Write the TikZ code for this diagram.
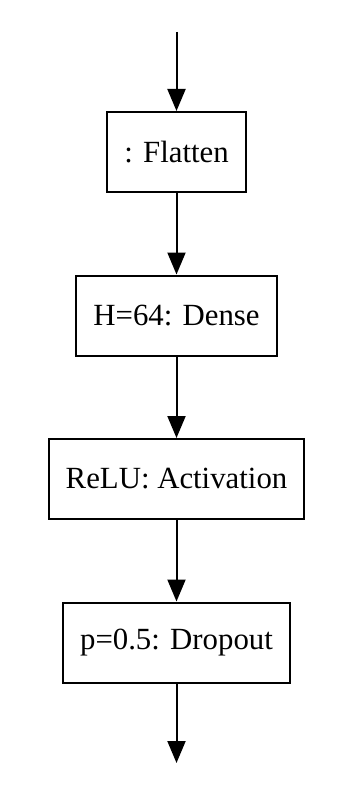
\documentclass[tikz,border=0pt]{standalone}
\usepackage{fontspec}
\setmainfont{Liberation Serif}
\usetikzlibrary{arrows.meta}

\tikzstyle{layer} = [align=center,draw=black,line width=1pt,font=\fontsize{15.4}{18}\selectfont,rectangle,text centered,minimum height=40pt,inner xsep=8.5pt]

\begin{document}
\begin{tikzpicture}[x=0.5pt,y=-0.5pt,node distance=81.75pt,>={Triangle[length=11pt,width=9pt]}]
	\useasboundingbox (0,0) rectangle (356,792);
	% input and output ends
	\coordinate (in) at (176.5,32);
	\coordinate (out) at (176.5,763);
	% layers
	\node (flatten) [layer] at (176.5,152) {: Flatten};
	\node (dense) [layer,below of=flatten] {H=64: Dense};
	\node (relu) [layer,below of=dense] {ReLU: Activation};
	\node (dropout) [layer,below of=relu] {p=0.5: Dropout};
	% connections
	\draw [->,line width=1pt] (in) -- (flatten);
	\draw [->,line width=1pt] (flatten) -- (dense);
	\draw [->,line width=1pt] (dense) -- (relu);
	\draw [->,line width=1pt] (relu) -- (dropout);
	\draw [->,line width=1pt] (dropout) -- (out);
\end{tikzpicture}
\end{document}
